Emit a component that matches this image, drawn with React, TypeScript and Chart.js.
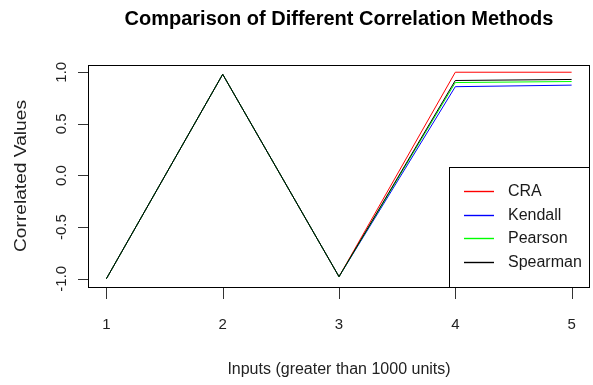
import React, { useEffect, useRef } from 'react';
import { Chart, registerables } from 'chart.js';

Chart.register(...registerables);

// ---- data ----
const inputs = [1, 2, 3, 4, 5];
const craValues = [-1, 0.98, -0.98, 1.0, 1.0];
const kendallValues = [-1, 0.98, -0.98, 0.86, 0.875];
const pearsonValues = [-1, 0.98, -0.98, 0.9, 0.91];
const spearmanValues = [-1, 0.98, -0.98, 0.92, 0.93];

const xTicks = [1, 2, 3, 4, 5];
const xTickLabels = ['1', '2', '3', '4', '5'];
const yTicks = [-1, -0.5, 0, 0.5, 1];
const yTickLabels = ['-1.0', '-0.5', '0.0', '0.5', '1.0'];

const seriesNames = ['CRA', 'Kendall', 'Pearson', 'Spearman'];
const seriesColors = ['#FF0000', '#0000FF', '#00FF00', '#000000'];

const chartTitle = 'Comparison of Different Correlation Methods';
const xTitle = 'Inputs (greater than 1000 units)';
const yTitle = 'Correlated Values';

const FONT = '"Liberation Sans", Arial, Helvetica, sans-serif';

const rStylePlugin = {
  id: 'rStyle',
  beforeDatasetsDraw(chart: any) {
    const { ctx } = chart;
    ctx.save();
    ctx.fillStyle = '#ffffff';
    ctx.fillRect(0, 0, chart.width, chart.height);
    ctx.restore();
  },
  afterDraw(chart: any) {
    const { ctx, chartArea: a } = chart;
    const xs = chart.scales.x;
    const ys = chart.scales.y;
    ctx.save();
    ctx.lineWidth = 1;

    // plot box
    ctx.strokeStyle = '#000';
    ctx.strokeRect(Math.round(a.left) + 0.5, Math.round(a.top) + 0.5,
      Math.round(a.right - a.left) - 1, Math.round(a.bottom - a.top));

    // tick marks
    ctx.fillStyle = '#333';
    const bottom = Math.round(a.bottom) + 1;
    xTicks.forEach((v) => {
      const px = Math.round(xs.getPixelForValue(v));
      ctx.fillRect(px, bottom, 1, 11);
    });
    const left = Math.round(a.left);
    yTicks.forEach((v) => {
      const py = Math.round(ys.getPixelForValue(v));
      ctx.fillRect(left - 10, py, 10, 1);
    });

    // title
    ctx.fillStyle = '#000';
    ctx.font = `bold 20px ${FONT}`;
    ctx.textAlign = 'center';
    ctx.textBaseline = 'alphabetic';
    ctx.fillText(chartTitle, (a.left + a.right) / 2, 25);

    // x tick labels
    ctx.font = `15px ${FONT}`;
    ctx.fillStyle = '#222';
    xTicks.forEach((v, i) => {
      ctx.fillText(xTickLabels[i], xs.getPixelForValue(v), 329);
    });

    // x title
    ctx.font = `16px ${FONT}`;
    ctx.fillText(xTitle, (a.left + a.right) / 2, 374);

    // y tick labels (rotated)
    ctx.font = `15px ${FONT}`;
    yTicks.forEach((v, i) => {
      const py = ys.getPixelForValue(v);
      ctx.save();
      ctx.translate(65.5, py);
      ctx.rotate(-Math.PI / 2);
      ctx.textAlign = 'center';
      ctx.fillText(yTickLabels[i], 0, 0);
      ctx.restore();
    });

    // y title (rotated)
    ctx.font = `16px ${FONT}`;
    ctx.save();
    ctx.translate(25.5, (a.top + a.bottom) / 2);
    ctx.rotate(-Math.PI / 2);
    const w = ctx.measureText(yTitle).width;
    ctx.scale(152 / w, 1);
    ctx.textAlign = 'center';
    ctx.fillText(yTitle, 0, 0);
    ctx.restore();

    // legend (bottom right inside plot)
    const lx = 449.5;
    const ly = 167.5;
    const lr = Math.round(a.right) - 0.5;
    const lb = Math.round(a.bottom) + 0.5;
    ctx.fillStyle = '#fff';
    ctx.fillRect(lx, ly, lr - lx, lb - ly);
    ctx.strokeStyle = '#000';
    ctx.strokeRect(lx, ly, lr - lx, lb - ly);
    const rows = [192, 216, 239, 263];
    ctx.font = `16px ${FONT}`;
    ctx.textAlign = 'left';
    ctx.textBaseline = 'middle';
    seriesNames.forEach((name, i) => {
      ctx.strokeStyle = seriesColors[i];
      ctx.lineWidth = 1.4;
      ctx.beginPath();
      ctx.moveTo(464, rows[i] - 0.5);
      ctx.lineTo(494, rows[i] - 0.5);
      ctx.stroke();
      ctx.fillStyle = '#1a1a1a';
      ctx.fillText(name, 508, rows[i]);
    });

    ctx.restore();
  },
};

export default function App() {
  const ref = useRef<HTMLCanvasElement>(null);

  useEffect(() => {
    if (!ref.current) return;
    const seriesValues = [craValues, kendallValues, pearsonValues, spearmanValues];
    const chart = new Chart(ref.current, {
      type: 'line',
      data: {
        datasets: seriesNames.map((name, s) => ({
          label: name,
          data: inputs.map((x, i) => ({ x, y: seriesValues[s][i] })),
          borderColor: seriesColors[s],
          backgroundColor: seriesColors[s],
          borderWidth: 1,
          pointRadius: 0,
          tension: 0,
          fill: false,
          order: 4 - s,
        })),
      },
      options: {
        responsive: false,
        animation: false,
        events: [],
        layout: { padding: { top: 65, right: 3, left: 0, bottom: 0 } },
        plugins: {
          legend: { display: false },
          title: { display: false },
          tooltip: { enabled: false },
        },
        scales: {
          x: {
            type: 'linear',
            min: 0.842,
            max: 5.158,
            afterFit: (s: any) => { s.height = 98; },
            afterBuildTicks: (s: any) => { s.ticks = xTicks.map((v) => ({ value: v })); },
            ticks: { display: false },
            grid: { display: false },
            border: { display: false },
          },
          y: {
            type: 'linear',
            min: -1.08,
            max: 1.07,
            afterFit: (s: any) => { s.width = 88; },
            afterBuildTicks: (s: any) => { s.ticks = yTicks.map((v) => ({ value: v })); },
            ticks: { display: false },
            grid: { display: false },
            border: { display: false },
          },
        },
      },
      plugins: [rStylePlugin],
    });
    return () => chart.destroy();
  }, []);

  return (
    <div style={{ position: 'fixed', left: 0, top: 0, width: 593, height: 385, background: '#fff' }}>
      <canvas ref={ref} width={593} height={385} style={{ display: 'block', width: 593, height: 385 }} />
    </div>
  );
}
